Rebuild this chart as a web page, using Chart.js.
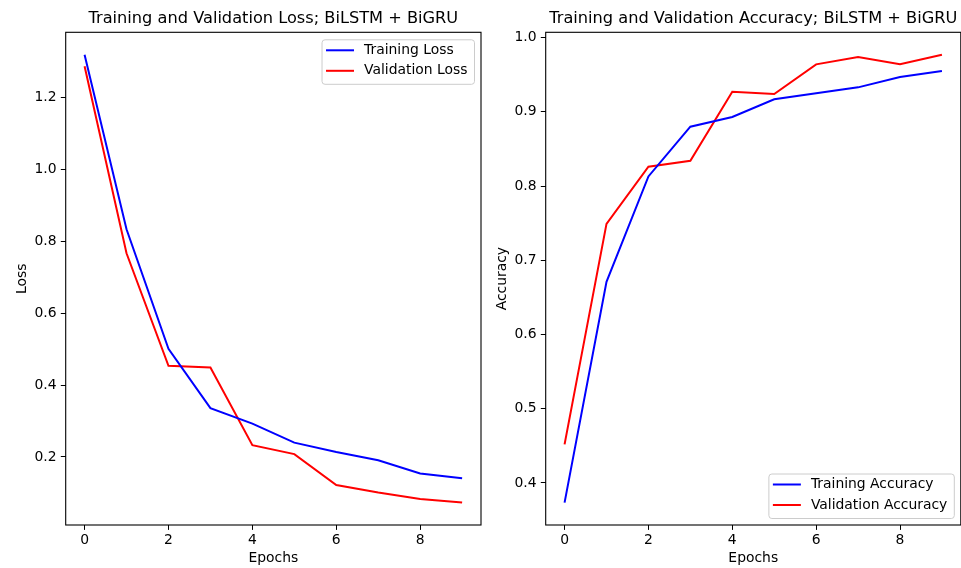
<!DOCTYPE html>
<html><head><meta charset="utf-8">
<script src="https://cdn.jsdelivr.net/npm/chart.js@4"></script>
<style>
html,body{margin:0;padding:0;background:#fff;width:961px;height:568px;overflow:hidden}
canvas{position:absolute;left:0;top:0}
</style></head>
<body>
<canvas id="c1" width="961" height="568"></canvas>
<canvas id="c2" width="961" height="568"></canvas>
<script>
const epochs = [0,1,2,3,4,5,6,7,8,9];
const trainLoss = [1.320,0.834,0.501,0.336,0.293,0.240,0.214,0.191,0.154,0.141];
const valLoss   = [1.288,0.767,0.454,0.449,0.233,0.208,0.122,0.101,0.083,0.073];
const trainAcc  = [0.3735,0.671,0.813,0.880,0.893,0.917,0.925,0.933,0.947,0.955];
const valAcc    = [0.452,0.749,0.826,0.834,0.927,0.924,0.964,0.974,0.964,0.977];
const xTicks = [0,2,4,6,8];
const lossTicks = [0.2,0.4,0.6,0.8,1.0,1.2];
const accTicks = [0.4,0.5,0.6,0.7,0.8,0.9,1.0];
const titles = ['Training and Validation Loss; BiLSTM + BiGRU','Training and Validation Accuracy; BiLSTM + BiGRU'];
const yLabels = ['Loss','Accuracy'];
const xLabel = 'Epochs';
const lossNames = ['Training Loss','Validation Loss'];
const accNames = ['Training Accuracy','Validation Accuracy'];

Chart.defaults.font.family = '"DejaVu Sans"';
Chart.defaults.color = '#000';

const FS = 13.9;

function lim(arrs){
  const all = [].concat(...arrs);
  const mn = Math.min(...all), mx = Math.max(...all), r = mx - mn;
  return [mn - 0.05*r, mx + 0.05*r];
}
function pts(ys){ return epochs.map((e,i)=>({x:e,y:ys[i]})); }

const decor = {
  id:'decor',
  afterDraw(chart, args, o){
    const ctx = chart.ctx;
    const {left,right,top,bottom} = chart.chartArea;
    ctx.save();
    // frame
    ctx.strokeStyle = '#000'; ctx.lineWidth = 1.1;
    ctx.strokeRect(left, top, right-left, bottom-top);
    // title
    ctx.fillStyle = '#000';
    ctx.font = '16.2px "DejaVu Sans"';
    ctx.textAlign = 'center'; ctx.textBaseline = 'middle';
    ctx.fillText(o.title, (left+right)/2, 18.5);
    // legend
    ctx.font = FS + 'px "DejaVu Sans"';
    const ds = chart.data.datasets;
    const tw = Math.max(...ds.map(d=>ctx.measureText(d.label).width));
    const w = 42.5 + tw + 6.5, h = 44.5;
    const bx = right - 7 - w;
    const by = o.legendPos === 'top' ? top + 7 : bottom - 7 - h;
    ctx.beginPath();
    ctx.roundRect(bx+0.5, by+0.5, w, h, 3);
    ctx.fillStyle = 'rgba(255,255,255,0.8)'; ctx.fill();
    ctx.strokeStyle = '#cccccc'; ctx.lineWidth = 1; ctx.stroke();
    ctx.textAlign = 'left'; ctx.textBaseline = 'middle';
    ds.forEach((d,i)=>{
      const yy = by + 11 + i*20.5;
      ctx.strokeStyle = d.borderColor; ctx.lineWidth = 2;
      ctx.beginPath(); ctx.moveTo(bx+4.5, yy); ctx.lineTo(bx+32.5, yy); ctx.stroke();
      ctx.fillStyle = '#000';
      ctx.fillText(d.label, bx+42.5, yy);
    });
    ctx.restore();
  }
};

function makeChart(id, padL, padR, series, names, ticks, yLabel, title, legendPos){
  const [ymin, ymax] = lim(series);
  return new Chart(document.getElementById(id), {
    type:'line',
    data:{ datasets: series.map((s,i)=>({
      label:names[i], data:pts(s), borderColor: i===0?'#0000ff':'#ff0000',
      borderWidth:2, pointRadius:0, tension:0, fill:false
    }))},
    options:{
      responsive:false, animation:false, devicePixelRatio:1,
      layout:{padding:{left:padL, right:padR, top:32.3, bottom:0}},
      plugins:{legend:{display:false}, tooltip:{enabled:false}, title:{display:false},
        decor:{title, legendPos}},
      scales:{
        x:{ type:'linear', min:-0.45, max:9.45,
          afterBuildTicks: s=>{ s.ticks = xTicks.map(v=>({value:v})); },
          afterFit: s=>{ s.height = 43; },
          grid:{display:true, drawOnChartArea:false, drawTicks:true, tickLength:4.9, tickColor:'#000', tickWidth:1},
          border:{display:false},
          ticks:{font:{size:FS}, padding:1.8, color:'#000', callback:v=>String(v), maxRotation:0},
          title:{display:true, text:xLabel, font:{size:FS}, color:'#000', padding:{top:0,bottom:1}}
        },
        y:{ type:'linear', min:ymin, max:ymax,
          afterBuildTicks: s=>{ s.ticks = ticks.map(v=>({value:v})); },
          afterFit: s=>{ s.width = 65.7; },
          grid:{display:true, drawOnChartArea:false, drawTicks:true, tickLength:4.9, tickColor:'#000', tickWidth:1},
          border:{display:false},
          ticks:{font:{size:FS}, padding:4.2, color:'#000', callback:v=>v.toFixed(1)},
          title:{display:true, text:yLabel, font:{size:FS}, color:'#000', padding:{top:14.5,bottom:0}}
        }
      }
    },
    plugins:[decor]
  });
}

makeChart('c1', 0, 480, [trainLoss, valLoss], lossNames, lossTicks, yLabels[0], titles[0], 'top');
makeChart('c2', 480, 0.2, [trainAcc, valAcc], accNames, accTicks, yLabels[1], titles[1], 'bottom');
</script>
</body></html>
